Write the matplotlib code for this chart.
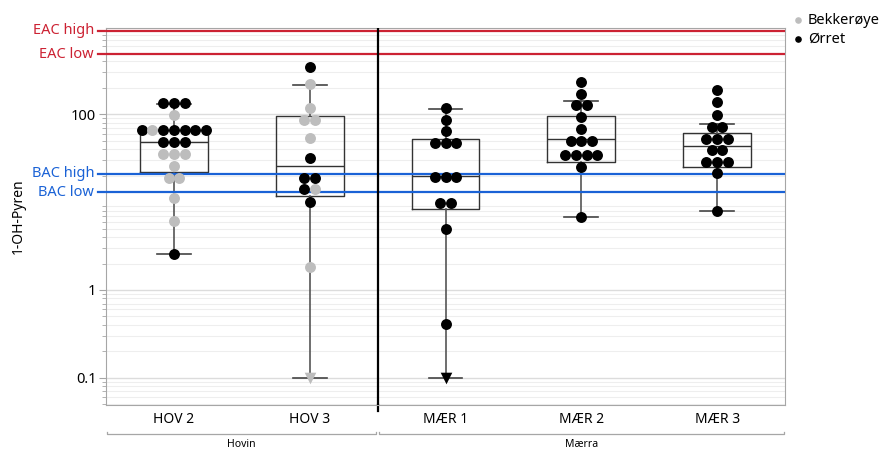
import numpy as np
import matplotlib
matplotlib.use("Agg")
import matplotlib.pyplot as plt
import matplotlib.transforms as mtransforms

plt.rcParams['font.family'] = ['Noto Sans', 'DejaVu Sans']

# categories and groups
stations = ["HOV 2", "HOV 3", "MÆR 1", "MÆR 2", "MÆR 3"]
groups = ["Hovin", "Mærra"]
group_span = [(0, 1), (2, 4)]

# measured values per station (0.1 = below detection limit, drawn as triangle)
bekk = [
    [98, 66, 35, 35, 35, 26, 19, 19, 11.2, 6.1],
    [220, 117, 86, 86, 54, 14, 1.84, 0.1],
    [],
    [],
    [],
]
orret = [
    [133, 133, 133, 66, 66, 66, 66, 66, 66, 49, 49, 49, 2.54],
    [347, 32, 18.7, 18.7, 14, 10.1],
    [119, 87, 64, 47.5, 47.5, 47.5, 19.3, 19.3, 19.3, 9.8, 9.8, 4.97, 0.41, 0.1],
    [235, 170, 127, 127, 94, 68, 50, 50, 50, 34, 34, 34, 34, 25, 6.8],
    [187, 137, 99, 72, 72, 53, 53, 53, 39, 39, 28.8, 28.8, 28.8, 21.3, 7.9],
]
lod = 0.1

# box statistics
whislo = [2.54, 0.1, 0.1, 6.8, 7.9]
q1 = [22, 11.75, 8.3, 29, 24.9]
med = [49, 26, 19.8, 52, 43.6]
q3 = [66, 96, 52, 97, 61]
whishi = [130, 218, 116, 142, 77]

# reference levels
ref_names = ["EAC high", "EAC low", "BAC high", "BAC low"]
ref_values = [900, 483, 21, 13]
ref_colors = ["#cc2233", "#cc2233", "#1a62d6", "#1a62d6"]

gray = "#bdbdbd"

fig = plt.figure(figsize=(8.82, 4.49), dpi=100)
ax = fig.add_axes([106 / 882, 1 - 405 / 449, (785 - 106) / 882, (405 - 27.7) / 449])
ax.set_yscale("log")
ax.set_ylim(0.049, 970)
ax.set_xlim(-0.5, 4.5)

# grid
ax.grid(True, which="major", axis="y", color="#dcdcdc", lw=1.0, zorder=0)
ax.grid(True, which="minor", axis="y", color="#eeeeee", lw=0.8, zorder=0)
ax.set_axisbelow(True)

# boxes
stats = []
for i in range(len(stations)):
    stats.append(dict(whislo=whislo[i], q1=q1[i], med=med[i], q3=q3[i],
                      whishi=whishi[i], fliers=[]))
ax.bxp(stats, positions=range(len(stations)), widths=0.5, showfliers=False,
       boxprops=dict(color="#333333", lw=1.0),
       medianprops=dict(color="#333333", lw=1.0),
       whiskerprops=dict(color="#555555", lw=1.2),
       capprops=dict(color="#444444", lw=1.2),
       manage_ticks=False, zorder=2)

# swarm: equal values sit in a centred row
step = 0.079
for i in range(len(stations)):
    pts = [(v, "k") for v in orret[i]] + [(v, gray) for v in bekk[i]]
    rows = {}
    for v, c in pts:
        rows.setdefault(v, []).append(c)
    for v, cols in rows.items():
        n = len(cols)
        if n > 2 and cols[-1] == gray and cols[0] == "k":
            # mixed row: grey point sits second from the left
            cols = [cols[0], cols[-1]] + cols[1:-1]
        for j, c in enumerate(cols):
            x = i + (j - (n - 1) / 2) * step
            if v <= lod:
                ax.scatter(x, v, s=70, marker="v", color=c, zorder=4, lw=0)
            else:
                ax.scatter(x, v, s=62, marker="o", color=c, zorder=4, lw=0)

# reference lines with labels on the left
blend = mtransforms.blended_transform_factory(ax.transAxes, ax.transData)
for name, val, col in zip(ref_names, ref_values, ref_colors):
    ax.axhline(val, color=col, lw=1.6, zorder=3)
    ax.plot([-0.012, 0], [val, val], color=col, lw=1.6, transform=blend, clip_on=False)
    ax.text(-0.012, val, name + " ", transform=blend, ha="right", va="center",
            color=col, fontsize=10.5)

# separator between the two rivers
ax.plot([1.5, 1.5], [0.049, 970], color="black", lw=1.6, zorder=5)
ax.plot([1.5, 1.5], [0.049, 0.042], color="black", lw=1.6, clip_on=False)

# axes
for s in ax.spines.values():
    s.set_color("#a6a6a6")
ax.set_yticks([0.1, 1, 100])
ax.set_yticklabels(["0.1", "1", "100"], fontsize=10.5)
ax.tick_params(axis="y", which="major", length=5, color="#a6a6a6", pad=2)
ax.tick_params(axis="y", which="minor", length=3, color="#a6a6a6", labelleft=False)
ax.set_xticks(range(len(stations)))
ax.set_xticklabels(stations, fontsize=10)
ax.tick_params(axis="x", length=0, pad=5)
ax.set_ylabel("1-OH-Pyren", fontsize=10)
ax.yaxis.set_label_coords(-0.118, 0.5)

# group brackets under the axis
bt = mtransforms.blended_transform_factory(ax.transData, ax.transAxes)
for g, (a, b) in zip(groups, group_span):
    x0 = a - 0.5 + 0.01
    x1 = b + 0.5 - 0.01
    yb = -0.077
    ax.plot([x0, x0, x1, x1], [yb + 0.006, yb, yb, yb + 0.006], color="#a6a6a6",
            lw=0.9, transform=bt, clip_on=False)
    ax.text((a + b) / 2, -0.105, g, transform=bt, ha="center", va="center", fontsize=7.5)

# legend
ax.scatter([], [], s=14, color=gray, label="Bekkerøye")
ax.scatter([], [], s=14, color="black", label="Ørret")
fig.legend(loc="upper left", bbox_to_anchor=(0.893, 0.985), frameon=False,
           fontsize=10.5, handlelength=0.6, handletextpad=0.4, labelspacing=0.3,
           borderaxespad=0)

fig.savefig("out.png", dpi=100)
